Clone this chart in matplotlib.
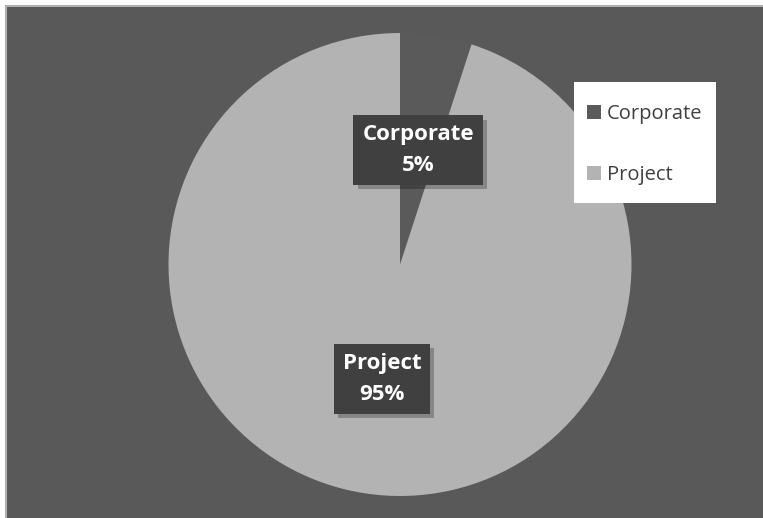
import matplotlib.pyplot as plt
import numpy as np
import matplotlib.patheffects as path_effects
from matplotlib.patches import Rectangle, Patch

plt.rcParams['font.family'] = ['Open Sans', 'DejaVu Sans']

categories = ["Corporate", "Project"]
shares = [5, 95]
colors = ["#5a5a5a", "#b3b3b3"]

W, H = 763, 518
fig = plt.figure(figsize=(W / 100, H / 100), dpi=100)
fig.patch.set_facecolor("white")

# chart area with thin light border on left/top
bg = fig.add_axes([0, 0, 1, 1], zorder=-1)
bg.set_xlim(0, W)
bg.set_ylim(H, 0)
bg.axis("off")
bg.add_patch(Rectangle((6, 6), W + 20, H + 20, facecolor="#595959",
                       edgecolor="#b0b0b0", linewidth=1.5))

cx, cy, r = 400, 264.5, 231.5
ax = fig.add_axes([(cx - r) / W, (H - cy - r) / H, 2 * r / W, 2 * r / H])
ax.set_facecolor("none")

wedges, _ = ax.pie(shares, colors=colors, startangle=90, counterclock=False,
                   radius=1, wedgeprops=dict(linewidth=0))
ax.set_xlim(-1, 1)
ax.set_ylim(-1, 1)
ax.set_aspect("equal")
ax.axis("off")

total = sum(shares)
for w, name, val in zip(wedges, categories, shares):
    mid = np.deg2rad((w.theta1 + w.theta2) / 2)
    t = ax.text(0.5 * np.cos(mid), 0.5 * np.sin(mid), f"{name}\n{val / total:.0%}",
                ha="center", va="center", color="white", fontsize=16, fontweight="bold",
                linespacing=1.6,
                bbox=dict(boxstyle="square,pad=0.4", facecolor="#404040", edgecolor="none"))
    t.get_bbox_patch().set_path_effects([
        path_effects.withSimplePatchShadow(offset=(3, -3), shadow_rgbFace="black", alpha=0.25)])

# white legend box drawn over the pie
lx0, ly0, lx1, ly1 = 574, 82, 716, 203
leg_ax = fig.add_axes([lx0 / W, 1 - ly1 / H, (lx1 - lx0) / W, (ly1 - ly0) / H], zorder=2)
leg_ax.set_facecolor("white")
leg_ax.set_xticks([])
leg_ax.set_yticks([])
for s in leg_ax.spines.values():
    s.set_visible(False)

handles = [Patch(facecolor=c, edgecolor="none") for c in colors]
leg = leg_ax.legend(handles, categories, loc="upper left",
                    bbox_to_anchor=(587 / W, 1 - 104 / H), bbox_transform=fig.transFigure,
                    frameon=False, fontsize=14.5, labelspacing=2.05, handlelength=0.7,
                    handleheight=0.7, handletextpad=0.3, borderpad=0, borderaxespad=0)
for txt in leg.get_texts():
    txt.set_color("#404040")

fig.savefig("out.png", dpi=100)
